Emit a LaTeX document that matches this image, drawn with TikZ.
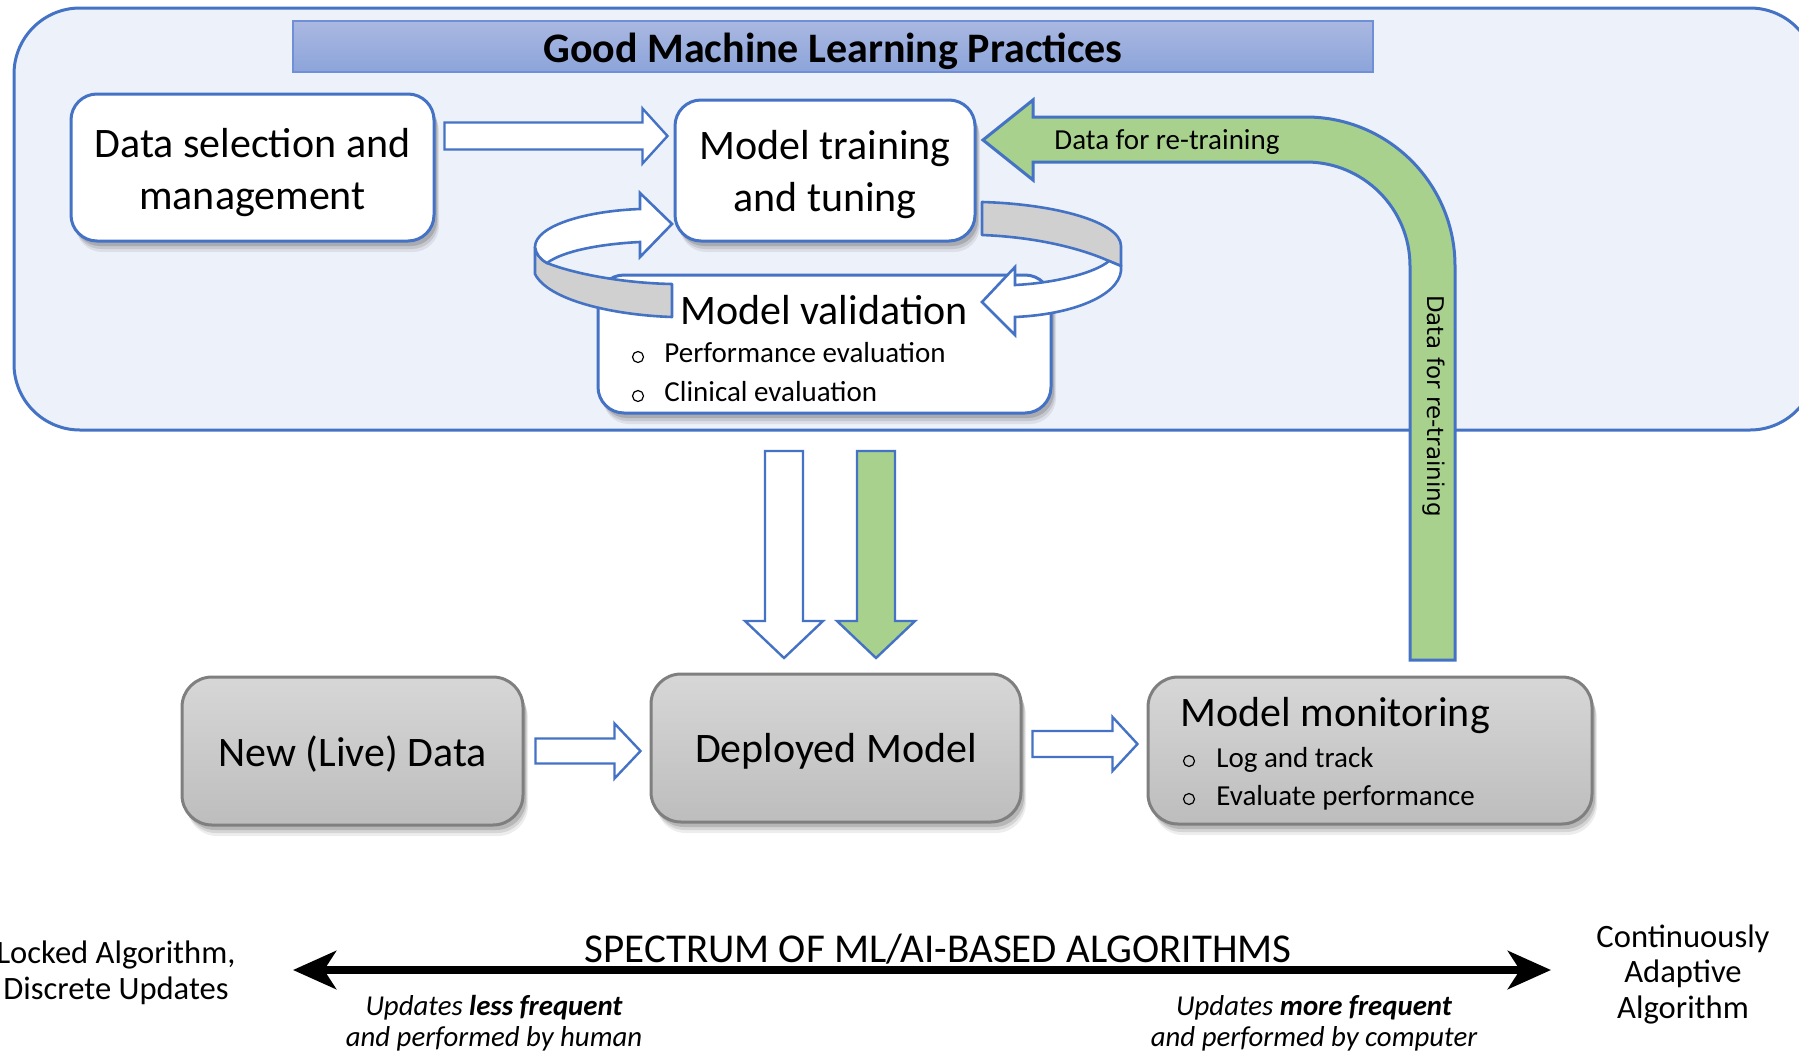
\documentclass[tikz,border=0pt]{standalone}
\usepackage{fontspec}
\setmainfont{Carlito}
\newfontfamily\vertfont{DejaVu Sans}
\usetikzlibrary{arrows.meta,shadows,calc}

\definecolor{edgeblue}{HTML}{4472C4}
\definecolor{panelfill}{HTML}{EDF1F9}
\definecolor{bartop}{HTML}{AAB8E1}
\definecolor{barbot}{HTML}{8CA4DA}
\definecolor{baredge}{HTML}{6F8FD6}
\definecolor{ringgray}{HTML}{D0D0D0}
\definecolor{leaf}{HTML}{A9D18E}
\definecolor{boxtop}{HTML}{D7D7D7}
\definecolor{boxbot}{HTML}{BDBDBD}
\definecolor{boxedge}{HTML}{7F7F7F}

\newcommand\fsz[2]{\fontsize{#1}{#2}\selectfont}

% block arrow lying along the local x axis: length, shaft half-width, head half-width, head length
\tikzset{
  pics/blockarrow/.style n args={4}{code={
    \path[pic actions] (0,-#2) -- ({#1-#4},-#2) -- ({#1-#4},-#3) -- (#1,0)
      -- ({#1-#4},#3) -- ({#1-#4},#2) -- (0,#2) -- cycle;
  }}
}

\begin{document}
\begin{tikzpicture}[x=0.5pt,y=-0.5pt,
  softshadow/.style={
    drop shadow={shadow xshift=2.5pt,shadow yshift=-5.5pt,opacity=0.07,fill=black},
    drop shadow={shadow xshift=2pt,shadow yshift=-4pt,opacity=0.10,fill=black},
    drop shadow={shadow xshift=1.5pt,shadow yshift=-2.5pt,opacity=0.14,fill=black}},
  wbox/.style={draw=edgeblue,line width=1.5pt,fill=white,rounded corners=13pt,
    softshadow,inner sep=0pt},
  gbox/.style={draw=boxedge,line width=1.5pt,top color=boxtop,bottom color=boxbot,
    rounded corners=15pt,softshadow,inner sep=0pt},
  boxtext/.style={inner sep=0pt,align=center,font=\fsz{21}{26}},
  titlebar/.style={draw=baredge,line width=0.8pt,top color=bartop,bottom color=barbot,
    inner sep=0pt},
  barrow/.style={draw=edgeblue,line width=1.2pt,fill=white,line join=miter},
  ringside/.style={draw=edgeblue,line width=1.3pt,fill=ringgray,line join=round},
  ringtop/.style={draw=edgeblue,line width=1.3pt,fill=white,line join=miter},
  greenarrow/.style={draw=edgeblue,line width=1.5pt,fill=leaf,line join=miter},
  bul/.style={font=\fsz{14.5}{17},inner sep=0pt},
  bulletring/.style={draw=black,line width=0.6pt},
  plain/.style={inner sep=0pt,align=center}
]
\useasboundingbox (0,0) rectangle (1799,1050);

% Good Machine Learning Practices panel
\path[draw=edgeblue,line width=1.5pt,fill=panelfill,rounded corners=33pt]
  (14,8) rectangle (1816,430);
\node[titlebar,minimum width=540pt,minimum height=25.5pt] (title) at (833,46.5) {};
\node[plain,font=\fsz{21}{25}\bfseries] (titletext) at ($(title)+(0,4.5)$)
  {Good Machine Learning Practices};

% development boxes
\node[wbox,minimum width=181.5pt,minimum height=73.5pt] (ds) at (252.5,167.5) {};
\node[boxtext] (dstext) at ($(ds)+(0,5.5)$) {Data selection and\\management};
\node[wbox,minimum width=150pt,minimum height=70.5pt] (mt) at (825,170.5) {};
\node[boxtext] (mttext) at ($(mt)+(0,4.5)$) {Model training\\and tuning};
\node[wbox,minimum width=226.5pt,minimum height=69pt] (mv) at (824.5,344) {};
\node[boxtext,anchor=base] (mvt) at (824,324) {Model validation};
\draw[bulletring] (638,357) circle[radius=5.5];
\draw[bulletring] (638,396) circle[radius=5.5];
\node[bul,anchor=base west] (mvb1) at (664,362) {Performance evaluation};
\node[bul,anchor=base west] (mvb2) at (664,401) {Clinical evaluation};

% data selection -> training
\pic[barrow] at ($(ds.east)+(9,-31.5)$) {blockarrow={223}{13.5}{27.5}{25}};

% training / validation loop (left half)
\draw[ringside] (535,247) .. controls (536,254) and (540,259) .. (547,263)
  .. controls (572,273) and (620,283) .. (672,284) -- (672,317)
  .. controls (612,315) and (548,300) .. (535,274) -- cycle;
\draw[ringtop] (535,247) .. controls (535,226) and (585,211) .. (640,209)
  -- (640,193) -- (672,224) -- (640,257) -- (640,242)
  .. controls (600,244) and (563,251) .. (547,263)
  .. controls (540,259) and (536,254) .. (535,247) -- cycle;

% training / validation loop (right half)
\draw[ringside] (982,202) .. controls (1055,204) and (1121,222) .. (1121,246)
  -- (1121,266) -- (1109,261) .. controls (1080,248) and (1035,237) .. (982,235) -- cycle;
\draw[ringtop] (1015,285) .. controls (1055,283) and (1095,273) .. (1109,261)
  -- (1121,266) .. controls (1124,292) and (1080,314) .. (1015,317)
  -- (1015,335) -- (982,302) -- (1015,267) -- cycle;

% deployment arrows
\pic[barrow,rotate=-90] at (784,451) {blockarrow={207}{19}{39}{37}};
\pic[barrow,fill=leaf,rotate=-90] at (876,451) {blockarrow={207}{19}{39}{37}};

% operation boxes
\node[gbox,minimum width=170.5pt,minimum height=74pt] (nd) at (352.5,751) {};
\node[boxtext] (ndtext) at ($(nd)+(0,3)$) {New (Live) Data};
\node[gbox,minimum width=185pt,minimum height=74pt] (dm) at (836,748) {};
\node[boxtext] (dmtext) at ($(dm)+(0,3.5)$) {Deployed Model};
\node[gbox,minimum width=222pt,minimum height=73.5pt] (mm) at (1370,750.5) {};
\node[boxtext,anchor=base west] (mmt) at (1180,726) {Model monitoring};
\draw[bulletring] (1189,761) circle[radius=5.5];
\draw[bulletring] (1189,799) circle[radius=5.5];
\node[bul,anchor=base west] (mmb1) at (1216,767) {Log and track};
\node[bul,anchor=base west] (mmb2) at (1216,805) {Evaluate performance};

\pic[barrow] at ($(nd.east)+(11,0)$) {blockarrow={105}{12.5}{27.5}{26}};
\pic[barrow] at ($(dm.east)+(10,-4)$) {blockarrow={105}{13}{27}{25}};

% re-training feedback from monitoring to training
\draw[greenarrow] (1410,660) -- (1410,266) arc[start angle=0,end angle=-90,radius=104]
  -- (1033,162) -- (1033,180) -- (983,140) -- (1033,100) -- (1033,117) -- (1306,117)
  arc[start angle=-90,end angle=0,radius=149] -- (1455,660) -- cycle;
\node[plain,font=\fsz{14.5}{17}] (rth) at (1167,142) {Data for re-training};
\node[plain,font=\vertfont\fsz{11.5}{14},rotate=-90] (rtv) at (1434,406) {Data for re-training};

% spectrum of algorithms
\coordinate (specL) at (293,970);
\coordinate (specR) at (1551,970);
\draw[line width=4pt,{Stealth[length=21.5pt,width=19pt,inset=6pt]}-{Stealth[length=21.5pt,width=19pt,inset=6pt]}]
  (specL) -- (specR);
\node[plain,font=\fsz{20.5}{24}] (spec) at (938,949) {SPECTRUM OF ML/AI-BASED ALGORITHMS};
\node[plain,font=\fsz{16.3}{18}] (locked) at (116,973) {Locked Algorithm,\\Discrete Updates};
\node[plain,font=\fsz{16.3}{17.75}] (adaptive) at (1683,974) {Continuously\\Adaptive\\Algorithm};
\node[plain,font=\fsz{14.4}{15.5}\itshape] (lessf) at (494,1023)
  {Updates \textbf{less frequent}\\and performed by human};
\node[plain,font=\fsz{14.4}{15.5}\itshape] (moref) at (1314,1023)
  {Updates \textbf{more frequent}\\and performed by computer};
\end{tikzpicture}
\end{document}
